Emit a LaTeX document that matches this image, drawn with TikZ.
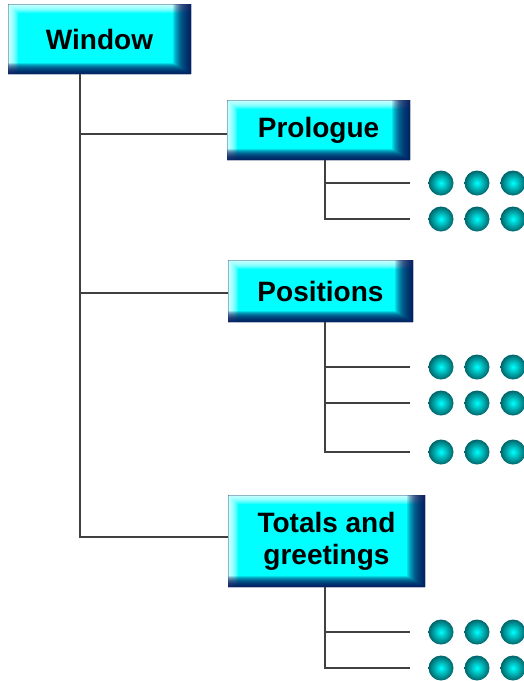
\documentclass[tikz,border=0pt]{standalone}
\usepackage{fontspec}
\setmainfont{Liberation Sans}
\usepackage{tikz}
\usepackage{xcolor}
\definecolor{boxcyan}{RGB}{0,255,255}
\definecolor{boxnavy}{RGB}{0,18,88}
\definecolor{balledge}{RGB}{0,100,105}
\definecolor{linegray}{RGB}{64,64,64}
\tikzset{
  bevel/.style={rectangle, inner sep=0pt, align=center,
    font=\bfseries\fontsize{28}{32}\selectfont,
    path picture={
      \fill[boxcyan] (path picture bounding box.south west) rectangle (path picture bounding box.north east);
      \foreach \i in {1,...,10}
        \fill[white, fill opacity=0.15, even odd rule]
          (path picture bounding box.south west) rectangle (path picture bounding box.north east)
          ([xshift=\i pt]path picture bounding box.south west) rectangle ([yshift=-0.9*\i pt]path picture bounding box.north east);
      \foreach \i in {1,...,20}
        \fill[boxnavy, fill opacity=0.11, even odd rule]
          (path picture bounding box.south west) rectangle (path picture bounding box.north east)
          ([yshift=0.55*\i pt]path picture bounding box.south west) rectangle ([xshift=-0.9*\i pt]path picture bounding box.north east);
    }},
  ball/.style={circle, minimum size=25pt, inner sep=0pt, shading=radial,
    inner color=boxcyan, outer color=balledge},
  branch/.style={draw=linegray, line width=1.5pt},
}

\begin{document}
\begin{tikzpicture}[x=1pt,y=-1pt]
\useasboundingbox (0,0) rectangle (523,681);
% boxes
\node[bevel, minimum width=183pt, minimum height=70pt] (win) at (99.5,39) {Window};
\node[bevel, minimum width=183pt, minimum height=60pt] (pro) at (318.5,130) {Prologue};
\node[bevel, minimum width=185pt, minimum height=62pt] (pos) at (320.5,291) {Positions};
\node[bevel, minimum width=197pt, minimum height=92pt] (tot) at (326.5,541) {Totals and\\greetings};
% balls
\foreach \y [count=\r] in {183,219,367,403,452,632,668}
  \foreach \x [count=\c] in {441,477,513}
    \node[ball] (d\r\c) at (\x,\y) {};
% main trunk
\draw[branch] (win.south -| 80,0) |- ([yshift=4pt]tot.west);
\draw[branch] ([yshift=-4pt]pro.west -| 80,0) -- ([yshift=-4pt]pro.west);
\draw[branch] ([yshift=-2pt]pos.west -| 80,0) -- ([yshift=-2pt]pos.west);
% sub trunks
\draw[branch] (pro.south -| 325,0) |- ([xshift=-18pt]d21.west);
\draw[branch] (d11.west -| 325,0) -- ([xshift=-18pt]d11.west);
\draw[branch] (pos.south -| 325,0) |- ([xshift=-18pt]d51.west);
\draw[branch] (d31.west -| 325,0) -- ([xshift=-18pt]d31.west);
\draw[branch] (d41.west -| 325,0) -- ([xshift=-18pt]d41.west);
\draw[branch] (tot.south -| 325,0) |- ([xshift=-18pt]d71.west);
\draw[branch] (d61.west -| 325,0) -- ([xshift=-18pt]d61.west);
\end{tikzpicture}
\end{document}
